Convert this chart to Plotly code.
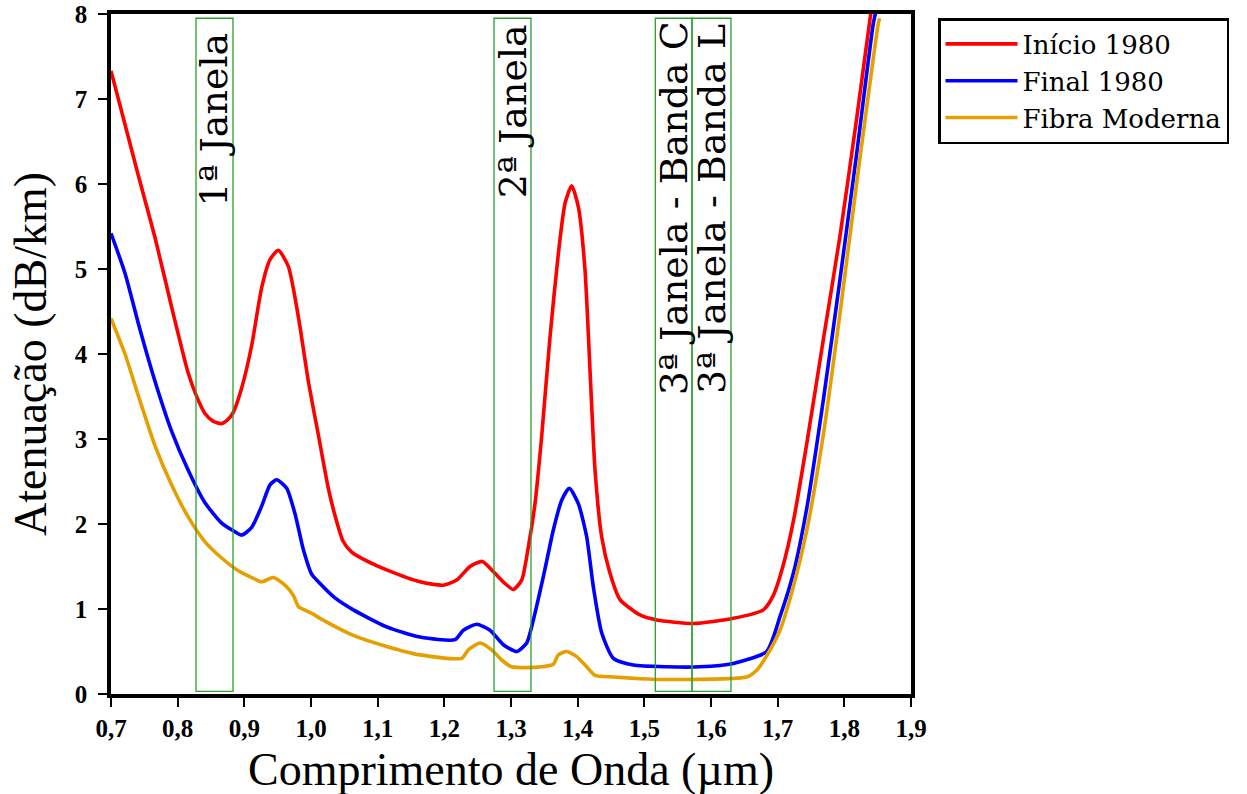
import plotly.graph_objects as go

# ---------------- data ----------------
x_inicio = [0.700, 0.741, 0.766, 0.791, 0.816, 0.829, 0.841, 0.853, 0.865, 0.874, 0.8825, 0.896, 0.911,
            0.926, 0.9385, 0.951, 0.966, 0.981, 0.996, 1.011, 1.026, 1.036, 1.048, 1.061, 1.085,
            1.1135, 1.1635, 1.1985, 1.2185, 1.2385, 1.257, 1.2735, 1.291, 1.3035, 1.316, 1.326,
            1.336, 1.346, 1.3585, 1.371, 1.381, 1.391, 1.401, 1.411, 1.4185, 1.426, 1.436, 1.4485,
            1.4635, 1.4935, 1.5185, 1.5735, 1.6335, 1.6785, 1.6935, 1.7085, 1.7235, 1.7435, 1.7685,
            1.7935, 1.8185, 1.8385, 1.843]
y_inicio = [7.33, 6.10, 5.37, 4.55, 3.77, 3.49, 3.30, 3.21, 3.18, 3.22, 3.30, 3.60, 4.10,
            4.78, 5.11, 5.22, 5.03, 4.44, 3.68, 3.05, 2.42, 2.10, 1.80, 1.67, 1.56,
            1.46, 1.32, 1.28, 1.34, 1.50, 1.56, 1.44, 1.30, 1.23, 1.34, 1.73,
            2.24, 3.03, 4.20, 5.18, 5.77, 5.98, 5.73, 4.99, 3.81, 2.64, 1.85, 1.42,
            1.11, 0.93, 0.87, 0.83, 0.89, 0.99, 1.16, 1.52, 2.03, 2.94, 4.17,
            5.39, 6.77, 7.94, 8.15]

x_final = [0.700, 0.721, 0.741, 0.766, 0.791, 0.816, 0.841, 0.866, 0.8835, 0.896, 0.911, 0.926,
           0.9385, 0.9485, 0.9635, 0.976, 0.9885, 1.001, 1.0135, 1.036, 1.0635, 1.1135, 1.1635,
           1.216, 1.2285, 1.2485, 1.2685, 1.2885, 1.3085, 1.3235, 1.3335, 1.3485, 1.3635, 1.376,
           1.3875, 1.401, 1.4135, 1.4235, 1.436, 1.4535, 1.4835, 1.5335, 1.5835, 1.6335, 1.6835,
           1.7035, 1.7235, 1.7435, 1.7685, 1.7935, 1.8185, 1.8435, 1.848]
y_final = [5.42, 4.95, 4.36, 3.68, 3.09, 2.63, 2.25, 2.01, 1.92, 1.87, 1.96, 2.21,
           2.46, 2.52, 2.42, 2.12, 1.70, 1.41, 1.30, 1.13, 0.99, 0.79, 0.67,
           0.64, 0.75, 0.82, 0.75, 0.58, 0.50, 0.60, 0.87, 1.38, 1.93, 2.28,
           2.42, 2.24, 1.85, 1.26, 0.72, 0.42, 0.34, 0.32, 0.32, 0.36, 0.50,
           0.91, 1.42, 2.18, 3.46, 4.88, 6.36, 7.89, 8.05]

x_moderna = [0.700, 0.721, 0.741, 0.766, 0.791, 0.816, 0.841, 0.866, 0.891, 0.911, 0.926, 0.9435,
             0.961, 0.9735, 0.981, 0.990, 1.001, 1.0135, 1.0635, 1.1135, 1.1635, 1.226, 1.236,
             1.2535, 1.271, 1.286, 1.301, 1.3235, 1.346, 1.3635, 1.371, 1.3835, 1.3985, 1.4135,
             1.426, 1.4535, 1.4935, 1.5335, 1.6535, 1.6685, 1.6835, 1.7035, 1.7235, 1.7435,
             1.7685, 1.7935, 1.8185, 1.851, 1.853]
y_moderna = [4.42, 4.00, 3.51, 2.92, 2.46, 2.08, 1.79, 1.60, 1.45, 1.37, 1.32, 1.37,
             1.28, 1.16, 1.03, 0.99, 0.95, 0.89, 0.69, 0.56, 0.46, 0.42, 0.52,
             0.60, 0.52, 0.40, 0.32, 0.31, 0.32, 0.35, 0.46, 0.50, 0.44, 0.32,
             0.22, 0.20, 0.18, 0.17, 0.20, 0.28, 0.45, 0.75, 1.26, 1.92,
             3.05, 4.48, 6.01, 7.89, 7.95]

series_names = ["Início 1980", "Final 1980", "Fibra Moderna"]
series_colors = ["#ff0000", "#0000ff", "#e69f00"]

janela_names = ["1ª Janela", "2ª Janela", "3ª Janela - Banda C", "3ª Janela - Banda L"]
janela_x0 = [0.8275, 1.2745, 1.5165, 1.5715]
janela_x1 = [0.883, 1.330, 1.5715, 1.630]
janela_label_y = [6.75, 6.85, 5.71, 5.70]

x_tickvals = [0.7, 0.8, 0.9, 1.0, 1.1, 1.2, 1.3, 1.4, 1.5, 1.6, 1.7, 1.8, 1.9]
x_ticktext = ["0,7", "0,8", "0,9", "1,0", "1,1", "1,2", "1,3", "1,4", "1,5", "1,6", "1,7", "1,8", "1,9"]
y_tickvals = [0, 1, 2, 3, 4, 5, 6, 7, 8]
y_ticktext = ["0", "1", "2", "3", "4", "5", "6", "7", "8"]

x_title = "Comprimento de Onda (µm)"
y_title = "Atenuação (dB/km)"

SERIF = "Liberation Serif, Times New Roman, serif"
WIDE_SERIF = "DejaVu Serif, serif"

W, H = 1247, 794
ML, MT = 111, 14
PW, PH = 800, 680

fig = go.Figure()
for xs, ys, name, color in zip([x_inicio, x_final, x_moderna], [y_inicio, y_final, y_moderna],
                               series_names, series_colors):
    fig.add_trace(go.Scatter(x=xs, y=ys, name=name, mode="lines",
                             line=dict(color=color, width=3.6, shape="spline", smoothing=0.6)))

for name, x0, x1, ly in zip(janela_names, janela_x0, janela_x1, janela_label_y):
    fig.add_shape(type="rect", xref="x", yref="y", x0=x0, x1=x1, y0=0.03, y1=7.95,
                  line=dict(color="#2ca02c", width=1.3), fillcolor="rgba(0,0,0,0)")
    fig.add_annotation(x=(x0 + x1) / 2, y=ly, xref="x", yref="y", text=name, textangle=-90,
                       showarrow=False, font=dict(family=WIDE_SERIF, size=38, color="black"))

fig.add_annotation(x=0.5, y=(694 - 769) / PH, xref="paper", yref="paper", text=x_title,
                   showarrow=False, xanchor="center", yanchor="middle",
                   font=dict(family=SERIF, size=46, color="black"))
fig.add_annotation(x=(30 - 111) / PW, y=0.5, xref="paper", yref="paper", text=y_title,
                   showarrow=False, xanchor="center", yanchor="middle", textangle=-90,
                   font=dict(family=SERIF, size=46, color="black"))

fig.update_layout(
    width=W, height=H,
    margin=dict(l=ML, r=W - ML - PW, t=MT, b=H - MT - PH, autoexpand=False),
    paper_bgcolor="white", plot_bgcolor="white",
    font=dict(family=SERIF, color="black"),
    showlegend=True,
    legend=dict(x=(938 - 111) / PW, y=(694 - 18) / PH, xanchor="left", yanchor="top",
                font=dict(family=WIDE_SERIF, size=26, color="black"),
                bordercolor="black", borderwidth=2.5, bgcolor="white",
                itemwidth=72, tracegroupgap=0),
)
fig.update_xaxes(range=[0.7, 1.9], tickvals=x_tickvals, ticktext=x_ticktext, automargin=False,
                 showgrid=False, zeroline=False, showline=True, linecolor="black", linewidth=3.5,
                 mirror=True, ticks="outside", ticklen=9, tickwidth=1.5, tickcolor="black",
                 tickfont=dict(family=SERIF, size=25, color="black", weight="bold"))
fig.update_yaxes(range=[0, 8], tickvals=y_tickvals, ticktext=y_ticktext, automargin=False,
                 showgrid=False, zeroline=False, showline=True, linecolor="black", linewidth=3.5,
                 mirror=True, ticks="outside", ticklen=9, tickwidth=1.5, tickcolor="black",
                 tickfont=dict(family=SERIF, size=25, color="black", weight="bold"),
                 ticklabelstandoff=6)

fig.write_html("out.html", config={"displayModeBar": False},
               post_script="document.body.style.margin='0px';")
